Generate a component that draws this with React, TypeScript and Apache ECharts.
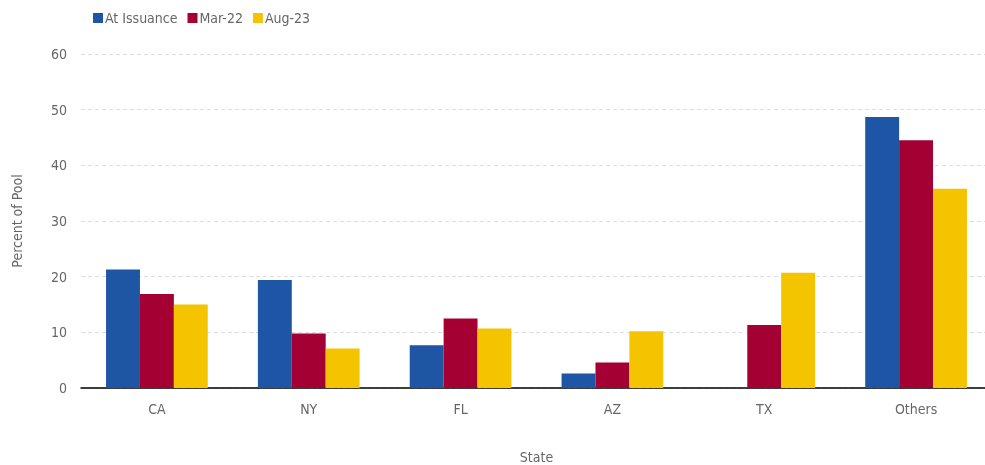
import React, { useEffect, useRef } from "react";
import * as echarts from "echarts";

const categories = ["CA", "NY", "FL", "AZ", "TX", "Others"];
const seriesNames = ["At Issuance", "Mar-22", "Aug-23"];
const atIssuance = [21.3, 19.4, 7.7, 2.6, 0, 48.7];
const mar22 = [16.9, 9.8, 12.5, 4.6, 11.3, 44.5];
const aug23 = [15.0, 7.1, 10.7, 10.2, 20.7, 35.8];
const colors = ["#1f55a5", "#a50034", "#f5c400"];

const FONT = "'DejaVu Sans Condensed', 'Liberation Sans Narrow', sans-serif";

export default function App() {
  const ref = useRef<HTMLDivElement>(null);
  useEffect(() => {
    if (!ref.current) return;
    const chart = echarts.init(ref.current, undefined, { renderer: "svg" });
    const values = [atIssuance, mar22, aug23];
    chart.setOption({
      animation: false,
      textStyle: { fontFamily: FONT },
      legend: {
        left: 88,
        top: 6,
        itemWidth: 10,
        itemGap: 10,
        itemHeight: 10,
        icon: "rect",
        textStyle: { color: "#666", fontSize: 14, fontFamily: FONT, padding: [0, 0, 0, -3] },
        data: seriesNames,
      },
      grid: {
        left: 81,
        width: 911,
        top: 54,
        height: 334,
        containLabel: false,
        outerBoundsMode: "none",
      },
      xAxis: {
        type: "category",
        data: categories,
        name: "State",
        nameLocation: "middle",
        nameGap: 62,
        nameTextStyle: { color: "#666", fontSize: 14, fontFamily: FONT },
        axisLine: { show: true, lineStyle: { color: "#000", width: 1.5 } },
        axisTick: { show: false },
        axisLabel: { color: "#666", fontSize: 14, margin: 14, fontFamily: FONT },
      },
      yAxis: {
        type: "value",
        min: 0,
        max: 60,
        interval: 10,
        name: "Percent of Pool",
        nameLocation: "middle",
        nameGap: 57,
        nameTextStyle: { color: "#666", fontSize: 14, fontFamily: FONT },
        axisLine: { show: false },
        axisTick: { show: false },
        axisLabel: { color: "#666", fontSize: 14, margin: 14, fontFamily: FONT },
        splitLine: { lineStyle: { color: "#dcdcdc", type: [4, 3], width: 1 } },
      },
      series: seriesNames.map((name, i) => ({
        name,
        type: "bar",
        data: values[i],
        barGap: "0%",
        barCategoryGap: "33%",
        itemStyle: { color: colors[i] },
      })),
    });
    return () => chart.dispose();
  }, []);
  return (
    <div
      ref={ref}
      style={{ position: "fixed", left: 0, top: 0, width: 985, height: 465 }}
    />
  );
}
